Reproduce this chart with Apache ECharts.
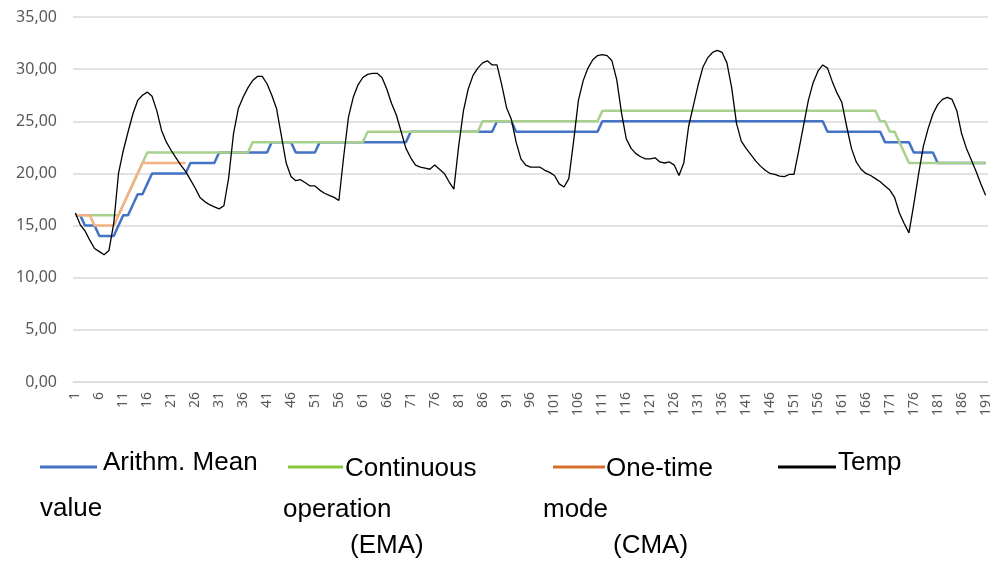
<!DOCTYPE html>
<html>
<head>
<meta charset="utf-8">
<script src="https://cdn.jsdelivr.net/npm/echarts@6/dist/echarts.min.js"></script>
<style>
  html, body { margin: 0; padding: 0; background: #fff; }
  #chart { width: 997px; height: 561px; }
</style>
</head>
<body>
<div id="chart"></div>
<script>
// Sample index 1..191
const categories = Array.from({ length: 191 }, (_, i) => String(i + 1));

// Measured temperature
const temp = [
  16.2, 15.1, 14.5, 13.6, 12.8, 12.5, 12.2, 12.6, 15.2, 20.0,
  22.2, 24.0, 25.7, 27.0, 27.5, 27.8, 27.4, 26.0, 24.1, 23.0,
  22.2, 21.5, 20.8, 20.2, 19.4, 18.6, 17.7, 17.3, 17.0, 16.8,
  16.6, 16.9, 19.6, 23.8, 26.2, 27.3, 28.2, 28.9, 29.3, 29.3,
  28.6, 27.5, 26.2, 23.6, 21.0, 19.7, 19.3, 19.4, 19.1, 18.8,
  18.8, 18.4, 18.1, 17.9, 17.7, 17.4, 21.6, 25.4, 27.3, 28.5,
  29.2, 29.5, 29.6, 29.6, 29.2, 28.1, 26.7, 25.6, 24.0, 22.4,
  21.5, 20.8, 20.6, 20.5, 20.4, 20.8, 20.4, 20.0, 19.2, 18.5,
  22.6, 26.0, 28.1, 29.4, 30.1, 30.6, 30.8, 30.4, 30.4, 28.5,
  26.3, 25.2, 23.0, 21.4, 20.8, 20.6, 20.6, 20.6, 20.3, 20.1,
  19.8, 19.0, 18.7, 19.5, 23.1, 27.0, 28.9, 30.1, 30.9, 31.3,
  31.4, 31.3, 30.8, 29.0, 25.8, 23.3, 22.4, 21.9, 21.6, 21.4,
  21.4, 21.5, 21.1, 21.0, 21.1, 20.8, 19.8, 21.0, 24.5, 26.5,
  28.5, 30.2, 31.1, 31.6, 31.8, 31.6, 30.6, 28.2, 24.8, 23.1,
  22.4, 21.8, 21.2, 20.7, 20.3, 20.0, 19.9, 19.75, 19.7, 19.9,
  19.9, 22.2, 24.6, 27.0, 28.7, 29.8, 30.4, 30.1, 28.8, 27.7,
  26.8, 24.5, 22.4, 21.1, 20.4, 20.0, 19.8, 19.5, 19.2, 18.8,
  18.4, 17.7, 16.2, 15.2, 14.3, 17.0, 19.9, 22.6, 24.3, 25.7,
  26.6, 27.1, 27.3, 27.1, 26.0, 23.8, 22.4, 21.3, 20.2, 19.0,
  17.9
];

// Arithmetic mean value
const arithMean = [
  16, 16, 15, 15, 15, 14, 14, 14, 14, 15,
  16, 16, 17, 18, 18, 19, 20, 20, 20, 20,
  20, 20, 20, 20, 21, 21, 21, 21, 21, 21,
  22, 22, 22, 22, 22, 22, 22, 22, 22, 22,
  22, 23, 23, 23, 23, 23, 22, 22, 22, 22,
  22, 23, 23, 23, 23, 23, 23, 23, 23, 23,
  23, 23, 23, 23, 23, 23, 23, 23, 23, 23,
  24, 24, 24, 24, 24, 24, 24, 24, 24, 24,
  24, 24, 24, 24, 24, 24, 24, 24, 25, 25,
  25, 25, 24, 24, 24, 24, 24, 24, 24, 24,
  24, 24, 24, 24, 24, 24, 24, 24, 24, 24,
  25, 25, 25, 25, 25, 25, 25, 25, 25, 25,
  25, 25, 25, 25, 25, 25, 25, 25, 25, 25,
  25, 25, 25, 25, 25, 25, 25, 25, 25, 25,
  25, 25, 25, 25, 25, 25, 25, 25, 25, 25,
  25, 25, 25, 25, 25, 25, 25, 24, 24, 24,
  24, 24, 24, 24, 24, 24, 24, 24, 24, 23,
  23, 23, 23, 23, 23, 22, 22, 22, 22, 22,
  21, 21, 21, 21, 21, 21, 21, 21, 21, 21,
  21
];

// Continuous operation (EMA)
const emaValues = [
  16, 16, 16, 16, 16, 16, 16, 16, 16, 16,
  17, 18, 19, 20, 21, 22, 22, 22, 22, 22,
  22, 22, 22, 22, 22, 22, 22, 22, 22, 22,
  22, 22, 22, 22, 22, 22, 22, 23, 23, 23,
  23, 23, 23, 23, 23, 23, 23, 23, 23, 23,
  23, 23, 23, 23, 23, 23, 23, 23, 23, 23,
  23, 24, 24, 24, 24, 24, 24, 24, 24, 24,
  24, 24, 24, 24, 24, 24, 24, 24, 24, 24,
  24, 24, 24, 24, 24, 25, 25, 25, 25, 25,
  25, 25, 25, 25, 25, 25, 25, 25, 25, 25,
  25, 25, 25, 25, 25, 25, 25, 25, 25, 25,
  26, 26, 26, 26, 26, 26, 26, 26, 26, 26,
  26, 26, 26, 26, 26, 26, 26, 26, 26, 26,
  26, 26, 26, 26, 26, 26, 26, 26, 26, 26,
  26, 26, 26, 26, 26, 26, 26, 26, 26, 26,
  26, 26, 26, 26, 26, 26, 26, 26, 26, 26,
  26, 26, 26, 26, 26, 26, 26, 26, 25, 25,
  24, 24, 23, 22, 21, 21, 21, 21, 21, 21,
  21, 21, 21, 21, 21, 21, 21, 21, 21, 21,
  21
];

// One-time mode (CMA), only recorded for the first samples
const cmaValues = [
  16, 16, 16, 16, 15, 15, 15, 15, 15, 16,
  17, 18, 19, 20, 21, 21, 21, 21, 21, 21,
  21, 21, 21, 21
];

const yTicks = { min: 0, max: 35, step: 5 };

const chart = echarts.init(document.getElementById('chart'), null, { renderer: 'canvas' });

const legendFont = '26px "Liberation Sans", Arial, sans-serif';
const legendColor = '#000';

function dash(x1, x2, y, color) {
  return {
    type: 'line',
    shape: { x1: x1, y1: y, x2: x2, y2: y },
    style: { stroke: color, lineWidth: 3 }
  };
}
function label(x, y, text) {
  return {
    type: 'text',
    x: x, y: y,
    style: { text: text, font: legendFont, fill: legendColor, verticalAlign: 'middle', align: 'left' }
  };
}

const option = {
  animation: false,
  backgroundColor: '#fff',
  grid: { left: 73, right: 9, top: 17, bottom: 179, containLabel: false },
  xAxis: {
    type: 'category',
    data: categories,
    boundaryGap: true,
    axisLine: { show: true, lineStyle: { color: '#d9d9d9', width: 1 } },
    axisTick: { show: false },
    axisLabel: {
      interval: 4,
      rotate: 90,
      color: '#595959',
      fontSize: 14,
      fontFamily: '"Noto Sans", sans-serif',
      margin: 10
    },
    splitLine: { show: false }
  },
  yAxis: {
    type: 'value',
    min: yTicks.min,
    max: yTicks.max,
    interval: yTicks.step,
    axisLine: { show: false },
    axisTick: { show: false },
    axisLabel: {
      color: '#595959',
      fontSize: 16,
      fontFamily: '"Noto Sans", sans-serif',
      margin: 16,
      formatter: v => v.toFixed(2).replace('.', ',')
    },
    splitLine: { lineStyle: { color: '#d9d9d9', width: 1.5 } }
  },
  series: [
    {
      name: 'Arithm. Mean value', type: 'line', data: arithMean,
      showSymbol: false, symbol: 'none',
      lineStyle: { color: '#4472C4', width: 2.5 }, z: 2
    },
    {
      name: 'Continuous operation (EMA)', type: 'line', data: emaValues,
      showSymbol: false, symbol: 'none',
      lineStyle: { color: '#A9D18E', width: 2.5 }, z: 3
    },
    {
      name: 'One-time mode (CMA)', type: 'line', data: cmaValues,
      showSymbol: false, symbol: 'none',
      lineStyle: { color: '#F4B183', width: 2.5 }, z: 4
    },
    {
      name: 'Temp', type: 'line', data: temp,
      showSymbol: false, symbol: 'none',
      lineStyle: { color: '#000000', width: 1.3 }, z: 5
    }
  ],
  graphic: [
    dash(40, 97, 467, '#4472C4'),
    label(103, 463, 'Arithm. Mean'),
    label(40, 509, 'value'),
    dash(288, 343, 467, '#8CC63F'),
    label(345, 469, 'Continuous'),
    label(283, 510, 'operation'),
    label(350, 546, '(EMA)'),
    dash(553, 605, 467, '#D5702A'),
    label(606, 469, 'One-time'),
    label(543, 510, 'mode'),
    label(613, 546, '(CMA)'),
    dash(778, 836, 467, '#000000'),
    label(838, 463, 'Temp')
  ]
};

chart.setOption(option);
</script>
</body>
</html>
